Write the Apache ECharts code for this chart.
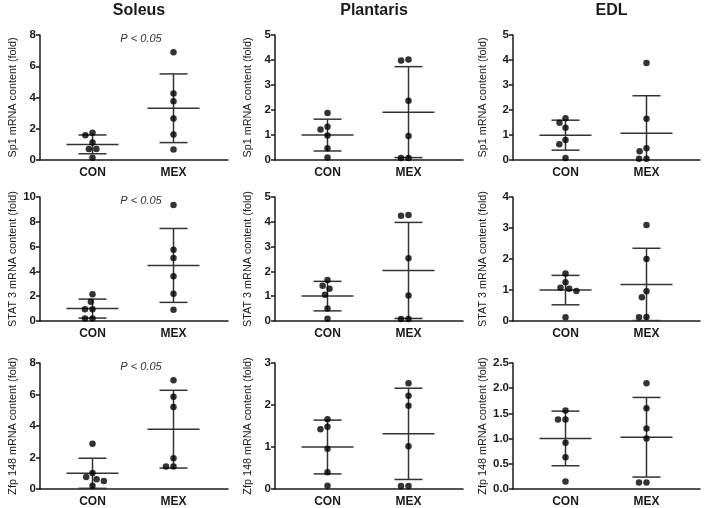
<!DOCTYPE html>
<html>
<head>
<meta charset="utf-8">
<script src="https://cdn.jsdelivr.net/npm/echarts@6/dist/echarts.min.js"></script>
<style>
html, body { margin: 0; padding: 0; background: #fff; }
#main { width: 709px; height: 508px; }
</style>
</head>
<body>
<div id="main"></div>
<script>
const muscles = ['Soleus', 'Plantaris', 'EDL']
const genes = ['Sp1', 'STAT 3', 'Zfp 148']
const groups = ['CON', 'MEX']

// each gene: [Soleus, Plantaris, EDL], fold change per animal
const sp1Con = [[1.74, 1.59, 1.12, 0.70, 0.70, 0.15], [1.88, 1.33, 1.22, 0.98, 0.47, 0.10], [1.67, 1.49, 1.29, 0.80, 0.63, 0.08]]
const sp1Mex = [[6.90, 4.25, 3.76, 2.65, 1.63, 0.68], [4.02, 3.98, 2.37, 0.96, 0.08, 0.08], [3.88, 1.65, 0.47, 0.35, 0.05, 0.05]]
const stat3Con = [[2.15, 1.56, 0.95, 0.95, 0.20, 0.20], [1.65, 1.42, 1.30, 1.06, 0.50, 0.09], [1.53, 1.25, 1.07, 1.04, 0.97, 0.12]]
const stat3Mex = [[9.35, 5.75, 5.08, 3.60, 2.20, 0.91], [4.27, 4.24, 2.53, 1.03, 0.08, 0.08], [3.10, 2.00, 0.96, 0.77, 0.13, 0.12]]
const zfpCon = [[2.87, 1.02, 0.76, 0.62, 0.51, 0.21], [1.66, 1.48, 1.42, 0.96, 0.40, 0.08], [1.56, 1.38, 1.38, 0.92, 0.63, 0.15]]
const zfpMex = [[6.91, 5.85, 5.21, 1.96, 1.43, 1.43], [2.52, 2.22, 1.98, 1.02, 0.07, 0.07], [2.10, 1.60, 1.20, 1.00, 0.13, 0.13]]

const yMax = [[8, 5, 5], [10, 5, 4], [8, 3, 2.5]]
const yStep = [[2, 1, 1], [2, 1, 1], [2, 1, 0.5]]
const pLabel = 'P < 0.05' // only Soleus is significant

const conData = [sp1Con, stat3Con, zfpCon]
const mexData = [sp1Mex, stat3Mex, zfpMex]

// layout of the 3x3 panels (pixels)
const axisX = [40, 275, 513]
const axisEnd = [228, 463, 700]
const rowTop = [35, 197, 363]
const rowZero = [160, 321, 489]

const font = "'Liberation Sans', Arial, Helvetica, sans-serif"
const ink = '#1a1a1a'

function mean(a) {
    return a.reduce((s, v) => s + v, 0) / a.length
}
function sd(a) {
    const m = mean(a)
    return Math.sqrt(a.reduce((s, v) => s + (v - m) * (v - m), 0) / (a.length - 1))
}

const chart = echarts.init(document.getElementById('main'))

const grid = [], xAxis = [], yAxis = [], series = [], title = []

muscles.forEach((m, c) => {
    title.push({
        text: m, left: (axisX[c] + axisEnd[c]) / 2, top: -2, textAlign: 'center',
        textStyle: { fontSize: 16, fontWeight: 'bold', color: ink, fontFamily: font }
    })
})

for (let r = 0; r < 3; r++) {
    for (let c = 0; c < 3; c++) {
        const p = r * 3 + c
        const g0 = p * 2, g1 = p * 2 + 1
        const h = rowZero[r] - rowTop[r]
        // wide grid: visible axes
        grid.push({ left: axisX[c], top: rowTop[r], width: axisEnd[c] - axisX[c], height: h })
        // narrow grid: where the two groups sit
        grid.push({ left: axisX[c] + 12, top: rowTop[r], width: 162, height: h })

        xAxis.push({
            gridIndex: g0, type: 'value', min: 0, max: 1,
            axisLine: { show: true, lineStyle: { color: ink, width: 1.5 } },
            axisTick: { show: false }, axisLabel: { show: false }, splitLine: { show: false }
        })
        yAxis.push({
            gridIndex: g0, type: 'value', min: 0, max: yMax[r][c], interval: yStep[r][c],
            name: genes[r] + ' mRNA content (fold)', nameLocation: 'middle', nameGap: c === 2 ? 24 : 21,
            nameTextStyle: { fontSize: 10.8, color: ink, fontFamily: font },
            axisLine: { show: true, lineStyle: { color: ink, width: 1.5 } },
            axisTick: { show: true, length: 4, lineStyle: { color: ink, width: 1.5 } },
            axisLabel: {
                fontSize: 11.5, fontWeight: 'bold', color: ink, fontFamily: font, margin: 4,
                formatter: v => yStep[r][c] < 1 ? v.toFixed(1) : String(v)
            },
            splitLine: { show: false }
        })
        xAxis.push({
            gridIndex: g1, type: 'category', data: groups,
            jitter: 40, jitterOverlap: false, jitterMargin: 1,
            axisLine: { show: false }, axisTick: { show: false },
            axisLabel: { fontSize: 12, fontWeight: 'bold', color: ink, fontFamily: font, margin: 7 }
        })
        yAxis.push({ gridIndex: g1, type: 'value', min: 0, max: yMax[r][c], show: false })

        const con = conData[r][c], mex = mexData[r][c]
        series.push({
            type: 'custom', xAxisIndex: g1, yAxisIndex: g1, clip: true, z: 3,
            data: [[0, mean(con), sd(con)], [1, mean(mex), sd(mex)]],
            renderItem: function (params, api) {
                const x = api.coord([api.value(0), api.value(1)])[0]
                const ym = api.coord([api.value(0), api.value(1)])[1]
                const hi = api.coord([api.value(0), api.value(1) + api.value(2)])[1]
                const lo = api.coord([api.value(0), api.value(1) - api.value(2)])[1]
                const st = { stroke: '#333', lineWidth: 1.5 }
                return {
                    type: 'group', children: [
                        { type: 'line', shape: { x1: x, y1: hi, x2: x, y2: lo }, style: st },
                        { type: 'line', shape: { x1: x - 26, y1: ym, x2: x + 26, y2: ym }, style: st },
                        { type: 'line', shape: { x1: x - 14, y1: hi, x2: x + 14, y2: hi }, style: st },
                        { type: 'line', shape: { x1: x - 14, y1: lo, x2: x + 14, y2: lo }, style: st }
                    ]
                }
            }
        })
        series.push({
            type: 'scatter', xAxisIndex: g1, yAxisIndex: g1, symbolSize: 6.5, z: 4,
            itemStyle: { color: '#000' },
            data: con.map(v => ['CON', v]).concat(mex.map(v => ['MEX', v]))
        })

        if (c === 0) {
            title.push({
                text: pLabel, left: axisX[c] + 96, top: rowTop[r] - 7, textAlign: 'center',
                textStyle: { fontSize: 11, fontStyle: 'italic', fontWeight: 'normal', color: '#333', fontFamily: font }
            })
        }
    }
}

chart.setOption({
    animation: false,
    textStyle: { fontFamily: font },
    title: title,
    grid: grid,
    xAxis: xAxis,
    yAxis: yAxis,
    series: series
})
</script>
</body>
</html>
